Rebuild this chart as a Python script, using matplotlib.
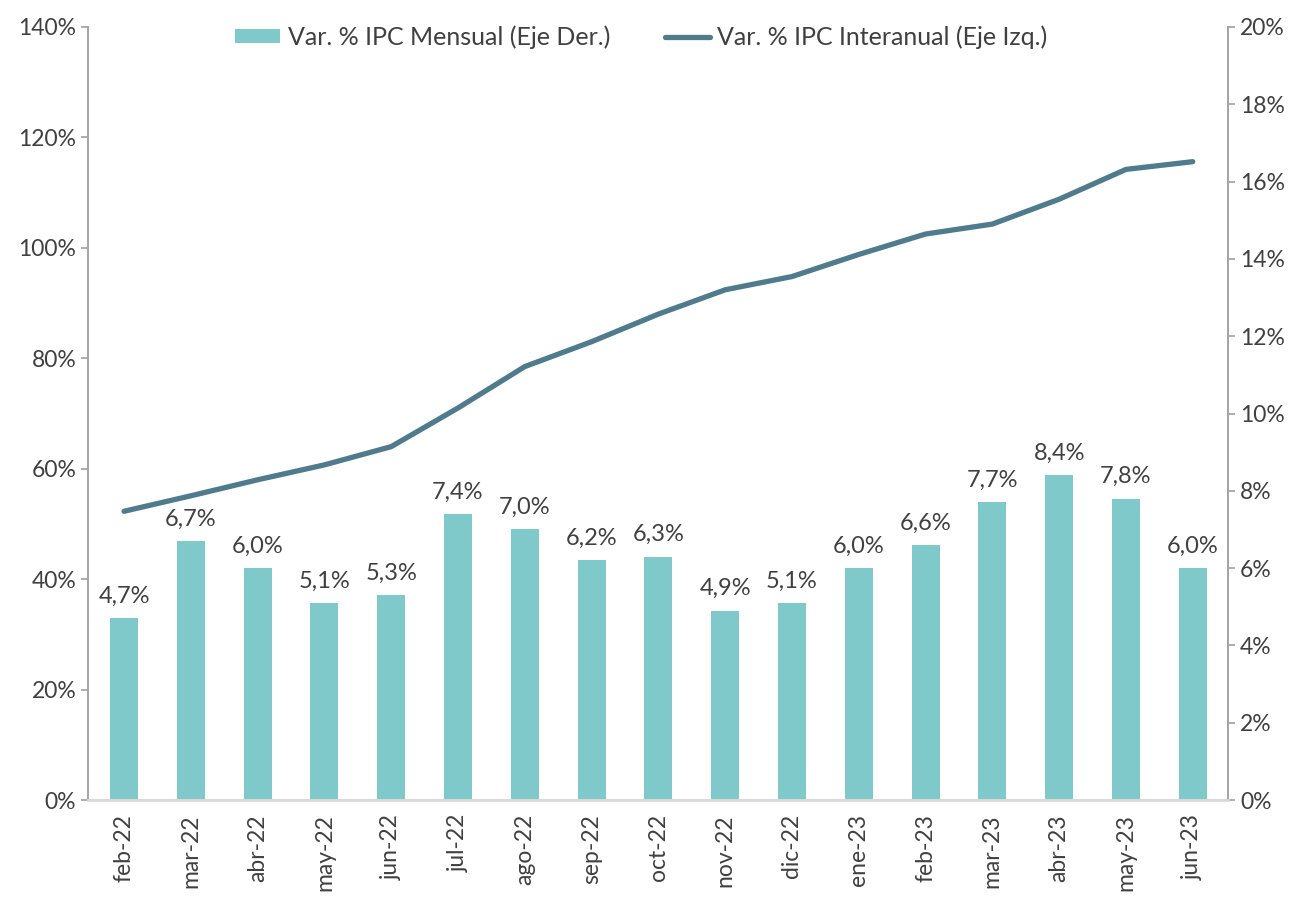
import numpy as np
import matplotlib.pyplot as plt
from matplotlib.ticker import FuncFormatter

meses = ["feb-22", "mar-22", "abr-22", "may-22", "jun-22", "jul-22", "ago-22",
         "sep-22", "oct-22", "nov-22", "dic-22", "ene-23", "feb-23", "mar-23",
         "abr-23", "may-23", "jun-23"]
mensual = [4.7, 6.7, 6.0, 5.1, 5.3, 7.4, 7.0, 6.2, 6.3, 4.9, 5.1, 6.0, 6.6, 7.7, 8.4, 7.8, 6.0]
interanual = [52.3, 55.1, 58.0, 60.7, 64.0, 71.0, 78.5, 83.0, 88.0, 92.4, 94.8,
              98.8, 102.5, 104.3, 108.8, 114.2, 115.6]

plt.rcParams['font.family'] = ['Lato', 'DejaVu Sans']
txt = '#404040'
gris = '#a6a6a6'
c_bar = '#80c9cb'
c_line = '#4f7b8d'

fig = plt.figure(figsize=(13.01, 8.97), dpi=100)
ax = fig.add_axes([0.0676, 0.108, 0.8764, 0.862])
ax2 = ax.twinx()

x = np.arange(len(meses))

# barras en el eje derecho
bars = ax2.bar(x, mensual, width=0.42, color=c_bar, label='Var. % IPC Mensual (Eje Der.)', zorder=2)
for xi, v in zip(x, mensual):
    ax2.text(xi, v + 0.3, f"{v:.1f}%".replace('.', ','), ha='center', va='bottom',
             fontsize=17, color=txt)

# linea en el eje izquierdo
ln, = ax.plot(x, interanual, color=c_line, lw=3.8, solid_capstyle='round',
              label='Var. % IPC Interanual (Eje Izq.)', zorder=3)
ax.set_zorder(ax2.get_zorder() + 1)
ax.patch.set_visible(False)

ax.set_ylim(0, 140)
ax2.set_ylim(0, 20)
ax.set_yticks(np.arange(0, 141, 20))
ax2.set_yticks(np.arange(0, 21, 2))
ax.yaxis.set_major_formatter(FuncFormatter(lambda v, p: f"{v:.0f}%"))
ax2.yaxis.set_major_formatter(FuncFormatter(lambda v, p: f"{v:.0f}%"))
ax.set_xlim(-0.54, len(meses) - 0.47)
ax.set_xticks(x)
ax.set_xticklabels(meses, rotation=90)

for a in (ax, ax2):
    for s in a.spines.values():
        s.set_color(gris)
        s.set_linewidth(1.3)
    a.spines['top'].set_visible(False)
    a.tick_params(colors=gris, labelcolor=txt, labelsize=16.5, length=5, width=1.3)
ax.tick_params(axis='x', length=0, pad=10)
ax2.spines['bottom'].set_color('#d9d9d9')
ax.spines['bottom'].set_color('#d9d9d9')
ax.spines['bottom'].set_linewidth(2)

fig.legend([bars, ln], [bars.get_label(), ln.get_label()], loc='upper center',
           bbox_to_anchor=(0.493, 0.997), ncol=2, frameon=False, fontsize=18,
           labelcolor=txt, handlelength=1.8, handleheight=0.45, columnspacing=2.2,
           handletextpad=0.3)

fig.savefig('out.png', dpi=100)
